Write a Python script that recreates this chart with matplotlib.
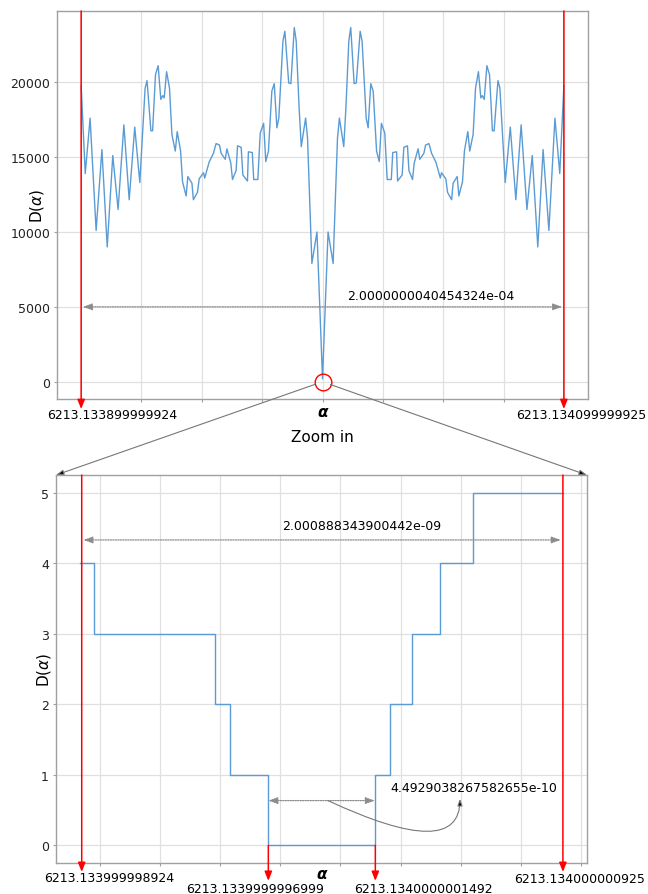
import matplotlib
matplotlib.use('Agg')
import matplotlib.pyplot as plt
import matplotlib.transforms as mtransforms
from matplotlib.patches import ConnectionPatch
from matplotlib.ticker import MultipleLocator

plt.rcParams['font.family'] = 'DejaVu Sans'
plt.rcParams['mathtext.fontset'] = 'dejavusans'

#############################################################################################################
# data
# top panel: alpha offset from 6213.134 in units of 1e-6
top_alpha = [-100.0, -98.3, -96.3, -93.8, -91.4, -89.2, -86.9, -84.7, -82.3, -80.1,
             -77.8, -75.7, -73.5, -72.7, -71.1, -70.4, -69.2, -68.1, -67.0, -66.2,
             -65.6, -64.6, -63.4, -62.4, -61.0, -60.2, -58.8, -58.0, -56.5, -55.8,
             -54.1, -53.5, -51.8, -51.1, -49.3, -48.8, -47.0, -45.2, -44.1, -42.7,
             -42.0, -40.3, -39.6, -38.0, -37.3, -35.8, -35.2, -33.7, -33.0, -31.1,
             -30.7, -29.1, -28.5, -26.8, -25.8, -24.4, -23.5, -22.4, -21.0, -20.0,
             -18.9, -18.1, -16.4, -15.6, -14.0, -13.1, -11.7, -10.9, -9.7, -8.8,
             -7.0, -6.2, -4.4, -2.3, 0.0,
             2.3, 4.4, 6.2, 7.0, 8.8, 9.7, 10.9, 11.7, 13.1, 14.0,
             15.6, 16.4, 18.1, 18.9, 20.0, 21.0, 22.4, 23.5, 24.4, 25.8,
             26.8, 28.5, 29.1, 30.7, 31.1, 33.0, 33.7, 35.2, 35.8, 37.3,
             38.0, 39.6, 40.3, 42.0, 42.7, 44.1, 45.2, 47.0, 48.8, 49.3,
             51.1, 51.8, 53.5, 54.1, 55.8, 56.5, 58.0, 58.8, 60.2, 61.0,
             62.4, 63.4, 64.6, 65.6, 66.2, 67.0, 68.1, 69.2, 70.4, 71.1,
             72.7, 73.5, 75.7, 77.8, 80.1, 82.3, 84.7, 86.9, 89.2, 91.4,
             93.8, 96.3, 98.3, 100.0]
top_D = [19750, 13900, 17600, 10100, 15500, 9000, 15100, 11500, 17150, 12150,
         17000, 13300, 19600, 20100, 16750, 16750, 20500, 21100, 18850, 19100,
         18950, 20700, 19600, 16500, 15400, 16700, 15400, 13350, 12400, 13700,
         13250, 12150, 12650, 13550, 13950, 13600, 14650, 15250, 15900, 15800,
         15250, 14850, 15550, 14600, 13500, 14100, 15750, 15650, 13800, 13400,
         15350, 15300, 13500, 13500, 16600, 17250, 14700, 15400, 19400, 19900,
         16950, 17600, 22750, 23400, 19950, 19900, 23650, 22750, 18300, 15700,
         17600, 16250, 7900, 10000, 200,
         10000, 7900, 16250, 17600, 15700, 18300, 22750, 23650, 19900, 19950,
         23400, 22750, 17600, 16950, 19900, 19400, 15400, 14700, 17250, 16600,
         13500, 13500, 15300, 15350, 13400, 13800, 15650, 15750, 14100, 13500,
         14600, 15550, 14850, 15250, 15800, 15900, 15250, 14650, 13600, 13950,
         13550, 12650, 12150, 13250, 13700, 12400, 13350, 15400, 16700, 15400,
         16500, 19600, 20700, 18950, 19100, 18850, 21100, 20500, 16750, 16750,
         20100, 19600, 13300, 17000, 12150, 17150, 11500, 15100, 9000, 15500,
         10100, 17600, 13900, 19750]
top_bounds = [-100.0, 100.0]
top_bound_labels = ['6213.133899999924', '6213.134099999925']
top_width_label = '2.0000000040454324e-04'

# bottom panel: alpha offset from 6213.134 in units of 1e-10
bot_alpha = [-10.83, -10.25, -5.23, -4.58, -3.0, 1.45, 2.06, 2.98, 4.14, 5.52, 9.25]
bot_D = [4, 3, 2, 1, 0, 1, 2, 3, 4, 5, 5]
bot_bounds = [-10.76, 9.25]
bot_bound_labels = ['6213.133999998924', '6213.134000000925']
bot_zero = [-3.0, 1.45]
bot_zero_labels = ['6213.1339999996999', '6213.1340000001492']
bot_width_label = '2.000888343900442e-09'
bot_zero_width_label = '4.4929038267582655e-10'

BLUE = '#5b9bd5'
RED = '#ff0000'
GREY = '#8c8c8c'

#############################################################################################################
fig = plt.figure(figsize=(6.48, 8.95), dpi=100)
ax1 = fig.add_axes([0.088, 0.5531, 0.8194, 0.4335])
ax2 = fig.add_axes([0.0864, 0.0346, 0.8194, 0.4335])

for ax in (ax1, ax2):
    for s in ax.spines.values():
        s.set_color('#a0a0a0')
        s.set_linewidth(1.0)
    ax.grid(True, color='#e0e0e0', linewidth=0.9)
    ax.set_axisbelow(True)
    ax.tick_params(length=2.5, width=0.8, color='#a0a0a0', labelsize=9, pad=2.5,
                   labelcolor='#222222', labelbottom=False)
    ax.xaxis.set_major_locator(MultipleLocator(2.5 if ax is ax2 else 25))


def red_arrow(ax, x, y_from, tip, from_data=False):
    trans = mtransforms.blended_transform_factory(ax.transData, ax.transAxes)
    ax.annotate('', xy=(x, tip), xycoords=trans, xytext=(x, y_from),
                textcoords=ax.transData if from_data else trans,
                arrowprops=dict(arrowstyle='-|>,head_length=0.55,head_width=0.22',
                                color=RED, lw=1.1, shrinkA=0, shrinkB=0),
                annotation_clip=False)


def span_arrow(ax, x0, x1, y, color=GREY):
    ax.annotate('', xy=(x1, y), xytext=(x0, y),
                arrowprops=dict(arrowstyle='<|-|>,head_length=0.55,head_width=0.2',
                                color=color, lw=0.9, linestyle=(0, (1, 1)),
                                shrinkA=0, shrinkB=0))


#############################################################################################################
# top panel
ax1.plot(top_alpha, top_D, color=BLUE, lw=1.0)
ax1.set_xlim(-110, 110)
ax1.set_ylim(-1150, 24750)
ax1.set_yticks([0, 5000, 10000, 15000, 20000])

ttrans = mtransforms.blended_transform_factory(ax1.transData, ax1.transAxes)
for x in top_bounds:
    red_arrow(ax1, x, 1.0, -0.026)
ax1.text(-87.0, -0.039, top_bound_labels[0], transform=ttrans, ha='center', va='center', fontsize=9)
ax1.text(107.2, -0.039, top_bound_labels[1], transform=ttrans, ha='center', va='center', fontsize=9)

span_arrow(ax1, -99.3, 99.3, 5000)
ax1.text(44.9, 5750, top_width_label, ha='center', va='center', fontsize=9)

ax1.plot([0], [0], marker='o', ms=12, mfc='none', mec=RED, mew=1.0, clip_on=False)

ax1.text(0.5, -0.031, 'α', transform=ax1.transAxes, ha='center', va='center',
         fontsize=11, fontstyle='italic', fontweight='bold')
ax1.text(-0.0377, 0.5, r'D($\alpha$)', transform=ax1.transAxes, rotation=90,
         ha='center', va='center', fontsize=11)

fig.text(0.4977, 0.5117, 'Zoom in', ha='center', va='center', fontsize=11)

#############################################################################################################
# bottom panel
ax2.step(bot_alpha, bot_D, where='post', color=BLUE, lw=1.0)
ax2.set_xlim(-11.83, 10.25)
ax2.set_ylim(-0.25, 5.25)
ax2.set_yticks([0, 1, 2, 3, 4, 5])

btrans = mtransforms.blended_transform_factory(ax2.transData, ax2.transAxes)
for x in bot_bounds:
    red_arrow(ax2, x, 1.0, -0.023)
for x in bot_zero:
    red_arrow(ax2, x, 0, -0.046, from_data=True)

ax2.text(-9.6, -0.036, bot_bound_labels[0], transform=btrans, ha='center', va='center', fontsize=9)
ax2.text(9.93, -0.041, bot_bound_labels[1], transform=btrans, ha='center', va='center', fontsize=9)
ax2.text(-3.54, -0.0665, bot_zero_labels[0], transform=btrans, ha='center', va='center', fontsize=9)
ax2.text(3.46, -0.0665, bot_zero_labels[1], transform=btrans, ha='center', va='center', fontsize=9)

span_arrow(ax2, -10.69, 9.16, 4.33)
ax2.text(0.89, 4.54, bot_width_label, ha='center', va='center', fontsize=9)

span_arrow(ax2, -3.0, 1.43, 0.635)
ax2.text(5.53, 0.82, bot_zero_width_label, ha='center', va='center', fontsize=9)
ax2.annotate('', xy=(4.97, 0.66), xytext=(-0.52, 0.635),
             arrowprops=dict(arrowstyle='-|>,head_length=0.4,head_width=0.15',
                             connectionstyle='angle3,angleA=-25,angleB=90',
                             ec='#777777', fc='black', lw=0.8, shrinkA=0, shrinkB=0))

ax2.text(0.5, -0.028, 'α', transform=ax2.transAxes, ha='center', va='center',
         fontsize=11, fontstyle='italic', fontweight='bold')
ax2.text(-0.0226, 0.5, r'D($\alpha$)', transform=ax2.transAxes, rotation=90,
         ha='center', va='center', fontsize=11)

#############################################################################################################
# zoom lines from the circle to the lower panel corners
for corner in [(0, 1), (1, 1)]:
    con = ConnectionPatch(xyA=(0, 0), coordsA=ax1.transData, xyB=corner, coordsB=ax2.transAxes,
                          arrowstyle='-|>,head_length=0.45,head_width=0.15', shrinkA=6, shrinkB=0,
                          mutation_scale=10, ec='#777777', fc='black', lw=0.8)
    fig.add_artist(con)

fig.savefig('out.png', dpi=100)
